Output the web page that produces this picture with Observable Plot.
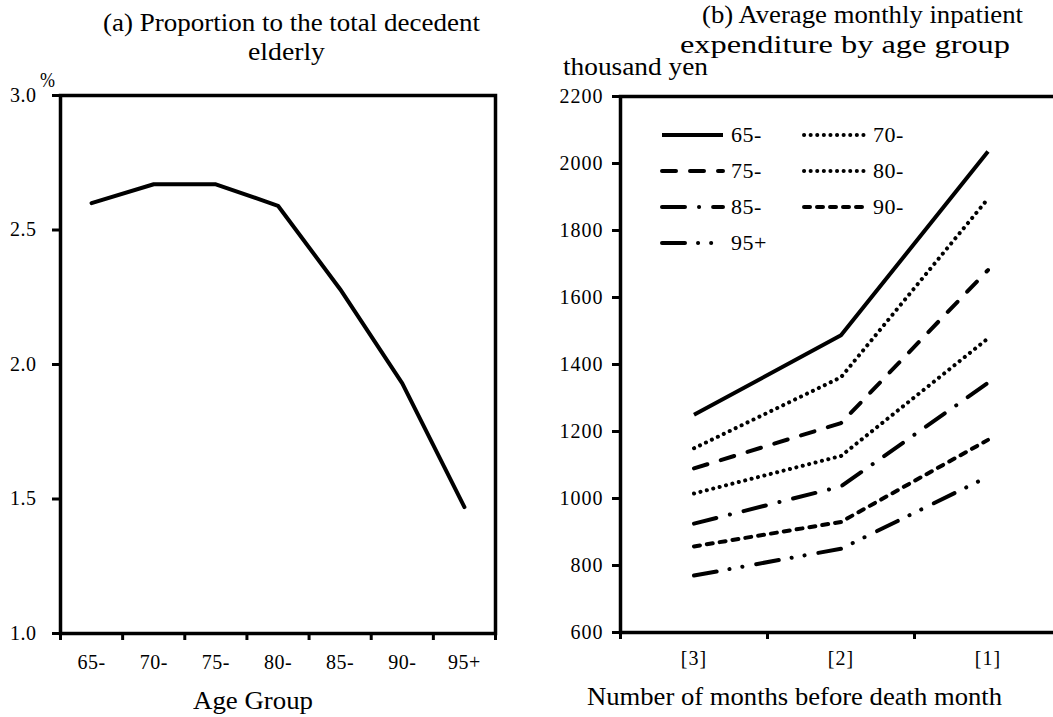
<!DOCTYPE html>
<html><head><meta charset="utf-8">
<script src="https://cdn.jsdelivr.net/npm/d3@7"></script>
<script src="https://cdn.jsdelivr.net/npm/@observablehq/plot@0.6"></script>
<style>
body{margin:0;background:#fff;overflow:hidden;font-family:"Liberation Serif","Times New Roman",serif;color:#000}
#wrap{position:relative;width:1053px;height:717px;overflow:hidden;background:#fff}
.abs{position:absolute;white-space:nowrap}
.plot{position:absolute;top:0}
</style></head><body>
<div id="wrap"></div>
<script>
// ---- data ----
const ageGroups = ["65-","70-","75-","80-","85-","90-","95+"];
const proportion = [2.60, 2.67, 2.67, 2.59, 2.28, 1.93, 1.47];
const leftTicks = [1.0, 1.5, 2.0, 2.5, 3.0];

const months = ["[3]","[2]","[1]"];
const seriesNames = ["65-","70-","75-","80-","85-","90-","95+"];
const exp65 = [1250, 1487, 2036];
const exp70 = [1150, 1362, 1895];
const exp75 = [1090, 1225, 1682];
const exp80 = [1015, 1127, 1478];
const exp85 = [925, 1036, 1345];
const exp90 = [857, 930, 1175];
const exp95 = [770, 850, 1065];
const rightTicks = [600, 800, 1000, 1200, 1400, 1600, 1800, 2000, 2200];

// ---- styles (not data) ----
const dashes = {
  "65-": null,
  "70-": "0.1,6.5",
  "75-": "14,14",
  "80-": "0.1,6.5",
  "85-": "23,14,0.1,14",
  "90-": "6,7",
  "95+": "23,13,0.1,13,0.1,14"
};

const wrap = document.getElementById("wrap");
const font = '"Liberation Serif","Times New Roman",serif';

// ---- left panel ----
const leftData = ageGroups.map((g, i) => ({i: i + 0.5, v: proportion[i]}));
const left = Plot.plot({
  width: 526, height: 717,
  marginLeft: 60, marginRight: 31, marginTop: 95, marginBottom: 84,
  style: {fontFamily: font, fontSize: "20px", color: "#000", background: "transparent", overflow: "visible", letterSpacing: "0.5px"},
  x: {domain: [0, ageGroups.length], axis: null},
  y: {domain: [1, 3], axis: null},
  marks: [
    Plot.frame({stroke: "#000", strokeWidth: 3.5}),
    Plot.axisY({ticks: leftTicks, tickFormat: d3.format(".1f"), tickSize: 8, tickPadding: 16, strokeWidth: 3, fontSize: 20, label: null}),
    Plot.axisX({ticks: d3.range(0, ageGroups.length + 1), tickFormat: () => "", tickSize: 7, strokeWidth: 3, label: null}),
    Plot.axisX({ticks: d3.range(ageGroups.length).map(i => i + 0.5), tickFormat: d => ageGroups[Math.round(d - 0.5)], tickSize: 0, tickPadding: 21, fontSize: 20, label: null}),
    Plot.line(leftData, {x: "i", y: "v", stroke: "#000", strokeWidth: 4, strokeLinejoin: "round", strokeLinecap: "round"})
  ]
});
left.classList.add("plot");
left.style.left = "0px";
wrap.appendChild(left);

// ---- right panel ----
const seriesValues = [exp65, exp70, exp75, exp80, exp85, exp90, exp95];
const rightData = [];
seriesNames.forEach((s, k) => months.forEach((m, j) => rightData.push({s, j: j + 0.5, v: seriesValues[k][j]})));

const right = Plot.plot({
  width: 540, height: 717,
  marginLeft: 90, marginRight: 9, marginTop: 96, marginBottom: 85,
  style: {fontFamily: font, fontSize: "20px", color: "#000", background: "transparent", overflow: "visible", letterSpacing: "1px"},
  x: {domain: [0, months.length], axis: null},
  y: {domain: [600, 2200], axis: null},
  marks: [
    Plot.frame({stroke: "#000", strokeWidth: 3.5}),
    Plot.axisY({ticks: rightTicks, tickFormat: d3.format("d"), tickSize: 8, tickPadding: 9, strokeWidth: 3, fontSize: 20, label: null}),
    Plot.axisX({ticks: d3.range(0, months.length + 1), tickFormat: () => "", tickSize: 7, strokeWidth: 3, label: null}),
    Plot.axisX({ticks: d3.range(months.length).map(i => i + 0.5), tickFormat: d => months[Math.round(d - 0.5)], tickSize: 0, tickPadding: 18, fontSize: 20, label: null}),
    ...seriesNames.map(s => Plot.line(rightData.filter(d => d.s === s), {
      x: "j", y: "v", stroke: "#000", strokeWidth: 4,
      strokeDasharray: dashes[s], strokeLinecap: dashes[s] ? "round" : "butt", strokeLinejoin: "round"
    }))
  ]
});
right.classList.add("plot");
right.style.left = "530px";
wrap.appendChild(right);

// ---- titles and labels: one line of text fitted to a target span ----
function fitText(text, x0, x1, cy, size) {
  const d = document.createElement("div");
  d.className = "abs";
  d.textContent = text;
  Object.assign(d.style, {fontSize: size + "px", lineHeight: "30px", left: x0 + "px", top: (cy - 15) + "px", transformOrigin: "0 50%"});
  wrap.appendChild(d);
  const w = d.getBoundingClientRect().width;
  if (w > 0) d.style.transform = `scaleX(${(x1 - x0) / w})`;
  return d;
}
fitText("(a) Proportion to the total decedent", 103, 480, 23, 25);
fitText("elderly", 248, 325, 52, 25);
fitText("(b) Average monthly inpatient", 702, 1023, 15, 25);
fitText("expenditure by age group", 680, 1010, 45, 25);
fitText("thousand yen", 563, 708, 67, 25);
fitText("%", 40, 55, 80, 20);
fitText("Age Group", 193, 313, 701, 26);
fitText("Number of months before death month", 587, 1002, 697, 25);

// ---- legend ----
const legendPos = [[0,0],[1,0],[0,1],[1,1],[0,2],[1,2],[0,3]];
seriesNames.forEach((s, k) => {
  const [c, r] = legendPos[k];
  const x0 = c === 0 ? 662 : 804;
  const y0 = 135 + r * 36;
  const ns = "http://www.w3.org/2000/svg";
  const svg = document.createElementNS(ns, "svg");
  svg.setAttribute("width", 66); svg.setAttribute("height", 10);
  svg.style.position = "absolute"; svg.style.left = (x0 - 2) + "px"; svg.style.top = (y0 - 5) + "px";
  const ln = document.createElementNS(ns, "line");
  ln.setAttribute("x1", 2); ln.setAttribute("x2", 63); ln.setAttribute("y1", 5); ln.setAttribute("y2", 5);
  ln.setAttribute("stroke", "#000"); ln.setAttribute("stroke-width", 4);
  if (dashes[s]) { ln.setAttribute("stroke-dasharray", dashes[s]); ln.setAttribute("stroke-linecap", "round"); }
  svg.appendChild(ln);
  wrap.appendChild(svg);
  const t = document.createElement("div");
  t.className = "abs";
  t.textContent = s;
  Object.assign(t.style, {left: (x0 + 69) + "px", top: (y0 - 13) + "px", fontSize: "22px", lineHeight: "26px", letterSpacing: "0.5px"});
  wrap.appendChild(t);
});
</script>
</body></html>
